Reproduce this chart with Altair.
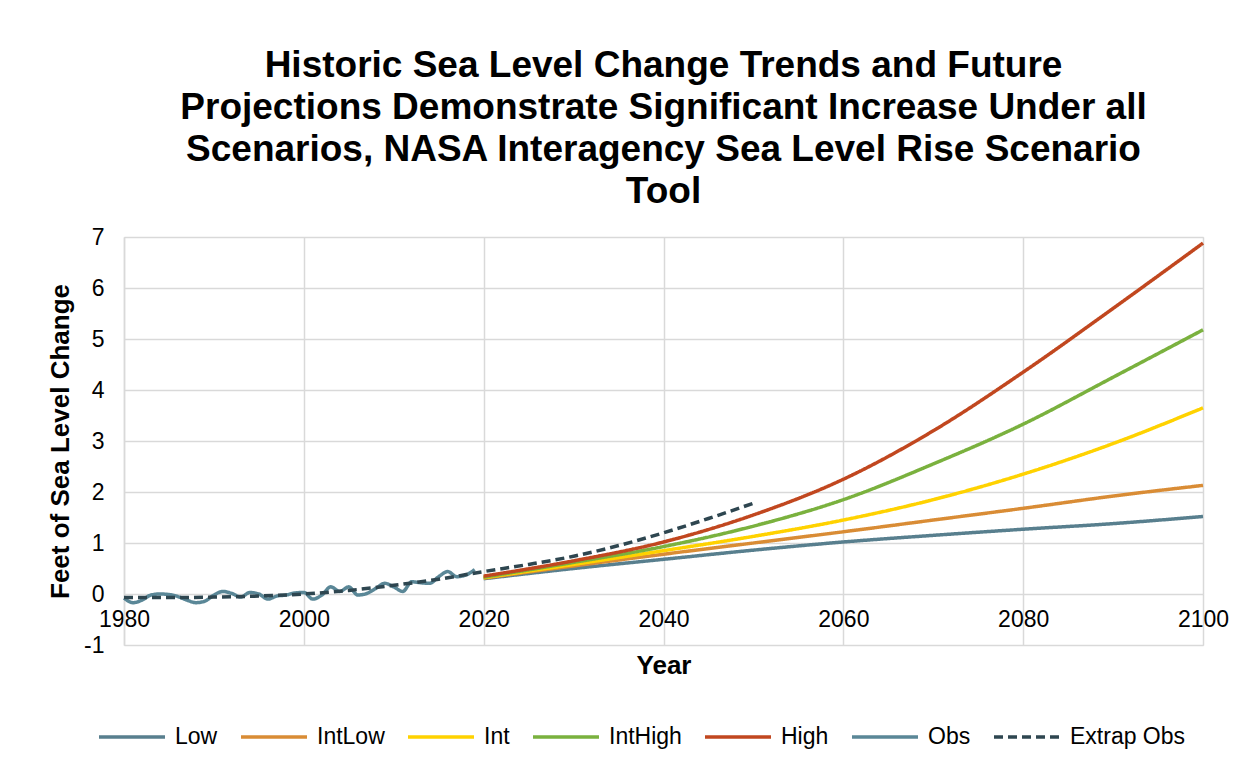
import altair as alt
import pandas as pd

# ---- data ----
proj_years = [2020, 2030, 2040, 2050, 2060, 2070, 2080, 2090, 2100]
low = [0.30, 0.50, 0.68, 0.86, 1.02, 1.15, 1.27, 1.38, 1.52]
intlow = [0.31, 0.55, 0.78, 1.00, 1.22, 1.45, 1.68, 1.92, 2.13]
intmid = [0.32, 0.58, 0.85, 1.13, 1.45, 1.85, 2.35, 2.95, 3.65]
inthigh = [0.33, 0.62, 0.93, 1.33, 1.85, 2.55, 3.33, 4.25, 5.18]
high = [0.35, 0.65, 1.02, 1.55, 2.25, 3.20, 4.35, 5.60, 6.88]

obs_years = list(range(1980, 2020))
obs = [-0.08, -0.17, -0.12, -0.02, 0.00, -0.01, -0.05, -0.12, -0.17, -0.14,
       -0.02, 0.05, 0.01, -0.06, 0.03, 0.00, -0.10, -0.04, -0.02, 0.02,
       0.03, -0.10, -0.02, 0.14, 0.05, 0.14, -0.02, 0.01, 0.11, 0.21,
       0.14, 0.05, 0.24, 0.22, 0.21, 0.34, 0.44, 0.34, 0.37, 0.48]

extrap_years = [1980, 1985, 1990, 1995, 2000, 2005, 2010, 2015, 2020,
                2025, 2030, 2035, 2040, 2045, 2050]
extrap = [-0.07, -0.07, -0.06, -0.04, 0.00, 0.07, 0.17, 0.29, 0.44,
          0.58, 0.74, 0.95, 1.20, 1.48, 1.78]

series_names = ["Low", "IntLow", "Int", "IntHigh", "High", "Obs", "Extrap Obs"]
series_colors = ["#587F8E", "#D98C35", "#FFD200", "#7AB13E", "#C1471F", "#5A8797", "#2E4650"]
series_dash = [[1, 0], [1, 0], [1, 0], [1, 0], [1, 0], [1, 0], [9, 5]]

x_ticks = [1980, 2000, 2020, 2040, 2060, 2080, 2100]
y_ticks = [-1, 0, 1, 2, 3, 4, 5, 6, 7]

title_lines = [
    "Historic Sea Level Change Trends and Future",
    "Projections Demonstrate Significant Increase Under all",
    "Scenarios, NASA Interagency Sea Level Rise Scenario",
    "Tool",
]

# ---- build table ----
rows = []
for name, vals in zip(["Low", "IntLow", "Int", "IntHigh", "High"],
                      [low, intlow, intmid, inthigh, high]):
    for yr, v in zip(proj_years, vals):
        rows.append({"Year": yr, "Value": v, "Series": name})
for yr, v in zip(obs_years, obs):
    rows.append({"Year": yr, "Value": v, "Series": "Obs"})
for yr, v in zip(extrap_years, extrap):
    rows.append({"Year": yr, "Value": v, "Series": "Extrap Obs"})
df = pd.DataFrame(rows)
df["order"] = df["Series"].map({n: i for i, n in enumerate(series_names)})

FONT = "Liberation Sans"
W, H = 1079, 408

legend = alt.Legend(
    title=None, orient="none", direction="horizontal",
    legendX=-27, legendY=465,
    symbolType="stroke", symbolSize=4356, symbolStrokeWidth=3.5,
    labelFontSize=23, labelFont=FONT, labelColor="#000000",
    labelOffset=8, columnPadding=16, columns=7,
)

chart = alt.Chart(df).mark_line(strokeWidth=3.5, interpolate="monotone").encode(
    x=alt.X("Year:Q",
            scale=alt.Scale(domain=[1980, 2100], nice=False, zero=False),
            axis=alt.Axis(values=x_ticks, format="d", title="Year",
                          offset=-H / 8, labelPadding=14, ticks=False,
                          labelFlush=False, labelOverlap=False,
                          domain=False, grid=True,
                          gridColor="#D9D9D9", gridWidth=1.5,
                          labelFontSize=23, labelFont=FONT, labelColor="#000000",
                          titleFontSize=26, titleFont=FONT, titleFontWeight="bold",
                          titleColor="#000000", titlePadding=21)),
    y=alt.Y("Value:Q",
            scale=alt.Scale(domain=[-1, 7], nice=False),
            axis=alt.Axis(values=y_ticks, title="Feet of Sea Level Change",
                          labelExpr="datum.value",
                          ticks=False, domain=True, domainColor="#D9D9D9",
                          domainWidth=1.5, grid=True, gridColor="#D9D9D9",
                          gridWidth=1.5, labelPadding=20,
                          labelFontSize=23, labelFont=FONT, labelColor="#000000",
                          titleFontSize=26, titleFont=FONT, titleFontWeight="bold",
                          titleColor="#000000", titlePadding=10)),
    color=alt.Color("Series:N",
                    scale=alt.Scale(domain=series_names, range=series_colors),
                    legend=legend),
    strokeDash=alt.StrokeDash("Series:N",
                              scale=alt.Scale(domain=series_names, range=series_dash),
                              legend=legend),
    detail="Series:N",
    order=alt.Order("order:Q"),
).properties(
    width=W, height=H,
    title=alt.TitleParams(text=title_lines, fontSize=37, font=FONT,
                          fontWeight="bold", color="#000000", lineHeight=42,
                          anchor="middle", offset=15),
    autosize=alt.AutoSizeParams(type="none"),
    padding={"left": 116, "top": 229, "right": 37, "bottom": 105},
).configure_view(stroke=None).configure(background="#FFFFFF")

chart.save("out.html", embed_options={"renderer": "svg", "actions": False})
